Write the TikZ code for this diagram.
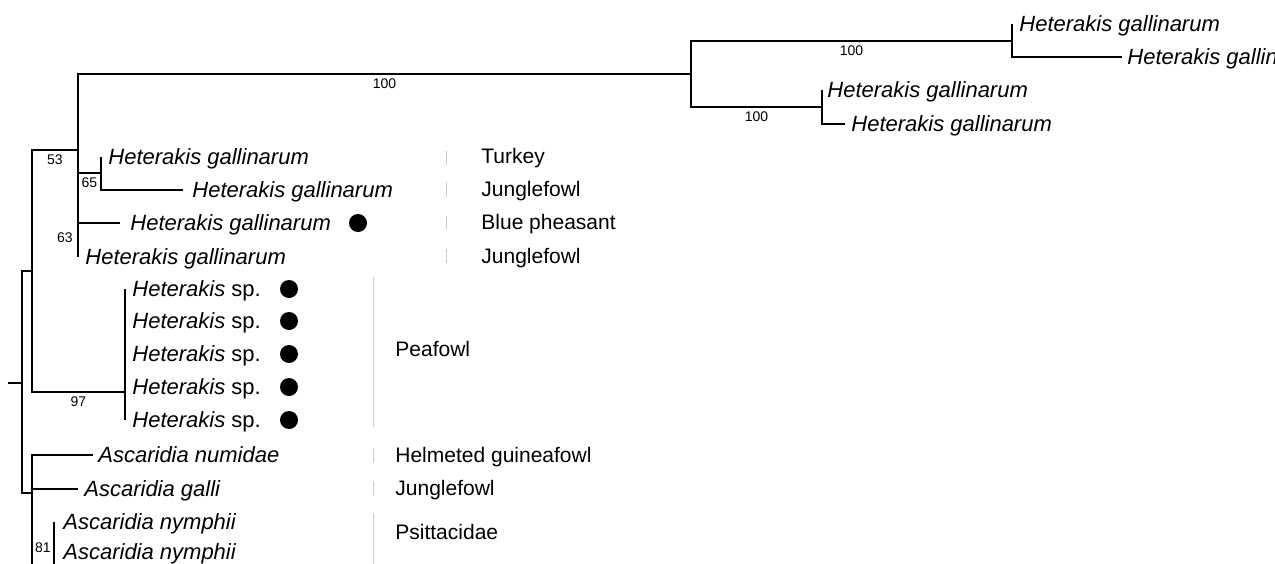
\documentclass[tikz,border=0pt]{standalone}
\usepackage{fontspec}
\setmainfont{Liberation Sans}
\usetikzlibrary{positioning}

\begin{document}
\begin{tikzpicture}[
    x=0.5pt, y=-0.5pt,
    branch/.style={line width=0.75pt},
    taxon/.style={inner sep=0pt, anchor=base west, font=\fontsize{11}{13}\selectfont\itshape},
    host/.style={inner sep=0pt, anchor=base west, font=\fontsize{10.5}{12}\selectfont},
    boot/.style={inner sep=0pt, font=\fontsize{7}{8}\selectfont},
    hostbar/.style={draw=black!20, line width=0.5pt},
    dot/.style={circle, fill=black, inner sep=0pt, minimum size=9pt},
]
\useasboundingbox (0,0) rectangle (1275,563);
\clip (0,0) rectangle (1275,563);

% Internal nodes
\coordinate (stub) at (8,383);
\coordinate (root) at (22,383);
\coordinate (nIn) at (32,271);
\coordinate (n53) at (78,150);
\coordinate (n100a) at (691,74);
\coordinate (n100b) at (1012,41);
\coordinate (n100c) at (822,107);
\coordinate (n63) at (78,226);
\coordinate (n65) at (101,173);
\coordinate (n97) at (125,392);
\coordinate (nAsc) at (32,493);
\coordinate (n81) at (54,580);

% Leaves
\coordinate (tA) at (1012,24);
\coordinate (tB) at (1122,57);
\coordinate (tC) at (822,90);
\coordinate (tD) at (845,124);
\coordinate (tTurk) at (101,157);
\coordinate (tJungA) at (183,190);
\coordinate (tBlue) at (120,223);
\coordinate (tJungB) at (78,257);
\coordinate (p1) at (125,289);
\coordinate (p2) at (125,321);
\coordinate (p3) at (125,354);
\coordinate (p4) at (125,387);
\coordinate (p5) at (125,420);
\coordinate (tNum) at (93,455);
\coordinate (tGal) at (78,489);
\coordinate (ny1) at (54,522);
\coordinate (ny2) at (54,552);

% Branches
\draw[branch] (stub) -- (root);
\draw[branch] (root) |- (nIn);
\draw[branch] (root) |- (nAsc);
\draw[branch] (nIn) |- node[boot, pos=0.75, below=2pt] {53} (n53);
\draw[branch] (nIn) |- node[boot, pos=0.75, below=2pt] {97} (n97);
\draw[branch] (n53) |- node[boot, pos=0.75, below=2pt] {100} (n100a);
\draw[branch] (n53) |- (n63);
\draw[branch] (n100a) |- node[boot, pos=0.75, below=2pt] {100} (n100b);
\draw[branch] (n100a) |- node[boot, pos=0.75, below=2pt] {100} (n100c);
\draw[branch] (n100b) |- (tA);
\draw[branch] (n100b) |- (tB);
\draw[branch] (n100c) |- (tC);
\draw[branch] (n100c) |- (tD);
\draw[branch] (n63) |- node[boot, pos=0.75, below=2pt] {65} (n65);
\draw[branch] (n63) |- (tBlue);
\draw[branch] (n63) |- (tJungB);
\draw[branch] (n65) |- (tTurk);
\draw[branch] (n65) |- (tJungA);
\draw[branch] (n97) |- (p1);
\draw[branch] (n97) |- (p2);
\draw[branch] (n97) |- (p3);
\draw[branch] (n97) |- (p4);
\draw[branch] (n97) |- (p5);
\draw[branch] (nAsc) |- (tNum);
\draw[branch] (nAsc) |- (tGal);
\draw[branch] (nAsc) |- (n81);
\draw[branch] (n81) |- (ny1);
\draw[branch] (n81) |- (ny2);

% Bootstrap values off the branches
\node[boot, below left=3pt and 2.5pt of n63] (b63) {63};
\node[boot, left=1.5pt of ny2, yshift=2pt] (b81) {81};

% Taxa
\node[taxon] (lA) at ([xshift=3.5pt, yshift=-3.5pt]tA) {Heterakis gallinarum};
\node[taxon] (lB) at ([xshift=2.5pt, yshift=-3.5pt]tB) {Heterakis gallinarum};
\node[taxon] (lC) at ([xshift=2.5pt, yshift=-3.5pt]tC) {Heterakis gallinarum};
\node[taxon] (lD) at ([xshift=3pt, yshift=-3.5pt]tD) {Heterakis gallinarum};
\node[taxon] (lTurk) at ([xshift=3.5pt, yshift=-3.5pt]tTurk) {Heterakis gallinarum};
\node[taxon] (lJungA) at ([xshift=4.5pt, yshift=-3.5pt]tJungA) {Heterakis gallinarum};
\node[taxon] (lBlue) at ([xshift=5pt, yshift=-3.5pt]tBlue) {Heterakis gallinarum};
\node[taxon] (lJungB) at ([xshift=3.5pt, yshift=-3.5pt]tJungB) {Heterakis gallinarum};
\node[taxon] (lp1) at ([xshift=3.5pt, yshift=-3.5pt]p1) {Heterakis \upshape sp.};
\node[taxon] (lp2) at ([xshift=3.5pt, yshift=-3.5pt]p2) {Heterakis \upshape sp.};
\node[taxon] (lp3) at ([xshift=3.5pt, yshift=-3.5pt]p3) {Heterakis \upshape sp.};
\node[taxon] (lp4) at ([xshift=3.5pt, yshift=-3.5pt]p4) {Heterakis \upshape sp.};
\node[taxon] (lp5) at ([xshift=3.5pt, yshift=-3.5pt]p5) {Heterakis \upshape sp.};
\node[taxon] (lNum) at ([xshift=2.5pt, yshift=-3.5pt]tNum) {Ascaridia numidae};
\node[taxon] (lGal) at ([xshift=3pt, yshift=-3.5pt]tGal) {Ascaridia galli};
\node[taxon] (lny1) at ([xshift=4.5pt, yshift=-3.5pt]ny1) {Ascaridia nymphii};
\node[taxon] (lny2) at ([xshift=4.5pt, yshift=-3.5pt]ny2) {Ascaridia nymphii};

% Markers
\node[dot] (dBlue) at (358,223) {};
\node[dot] (d1) at (289,289) {};
\node[dot] (d2) at (289,321) {};
\node[dot] (d3) at (289,354) {};
\node[dot] (d4) at (289,387) {};
\node[dot] (d5) at (289,420) {};

% Hosts
\draw[hostbar] (446,151) -- (446,165);
\draw[hostbar] (446,182) -- (446,197);
\draw[hostbar] (446,216) -- (446,230);
\draw[hostbar] (446,249) -- (446,263);
\draw[hostbar] (373,277) -- (373,427);
\draw[hostbar] (373,448) -- (373,463);
\draw[hostbar] (373,481) -- (373,496);
\draw[hostbar] (373,513) -- (373,570);
\node[host] (hTurk) at (481,163) {Turkey};
\node[host] (hJungA) at (481,196) {Junglefowl};
\node[host] (hBlue) at (481,229) {Blue pheasant};
\node[host] (hJungB) at (481,263) {Junglefowl};
\node[host] (hPea) at (395,356) {Peafowl};
\node[host] (hHelm) at (395,462) {Helmeted guineafowl};
\node[host] (hJungC) at (395,495) {Junglefowl};
\node[host] (hPsit) at (395,539) {Psittacidae};

\end{tikzpicture}
\end{document}
